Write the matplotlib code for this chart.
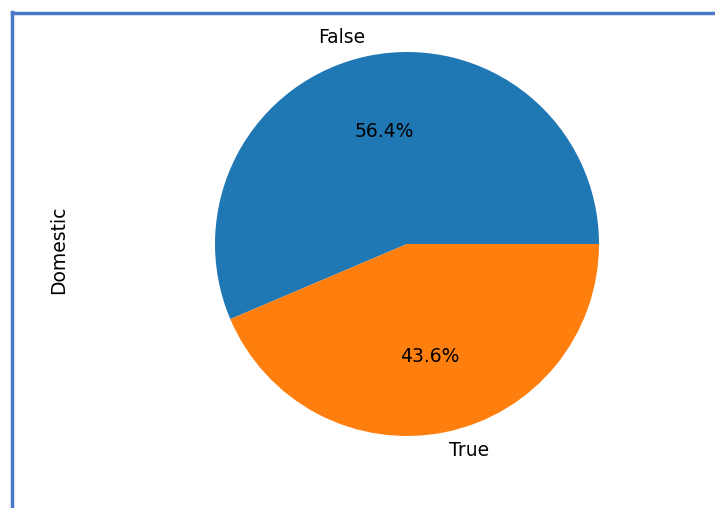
import matplotlib
matplotlib.use("Agg")
import matplotlib.pyplot as plt
from matplotlib.lines import Line2D

labels = ["False", "True"]
values = [56.4, 43.6]
colors = ["#1f77b4", "#ff7f0e"]
ylabel = "Domestic"

W, H = 715, 508
fig = plt.figure(figsize=(W / 100, H / 100), dpi=100)

cx, cy, r = 407, 244, 192
side = 2.5 * r
ax = fig.add_axes([(cx - side / 2) / W, (H - cy - side / 2) / H, side / W, side / H])
ax.pie(values, labels=labels, colors=colors, autopct="%.1f%%",
       textprops={"fontsize": 13.5})
ax.set_aspect("equal")

fig.text(59 / W, 1 - 250 / H, ylabel, rotation=90, ha="center", va="center", fontsize=13.5)

# notebook cell border (blue)
bc = "#4a78c8"
fig.add_artist(Line2D([12 / W, 1], [1 - 12.5 / H, 1 - 12.5 / H], color=bc, lw=2.5,
                      transform=fig.transFigure))
fig.add_artist(Line2D([12 / W, 12 / W], [0, 1 - 11.5 / H], color=bc, lw=2.5,
                      transform=fig.transFigure))

fig.savefig("out.png", dpi=100)
